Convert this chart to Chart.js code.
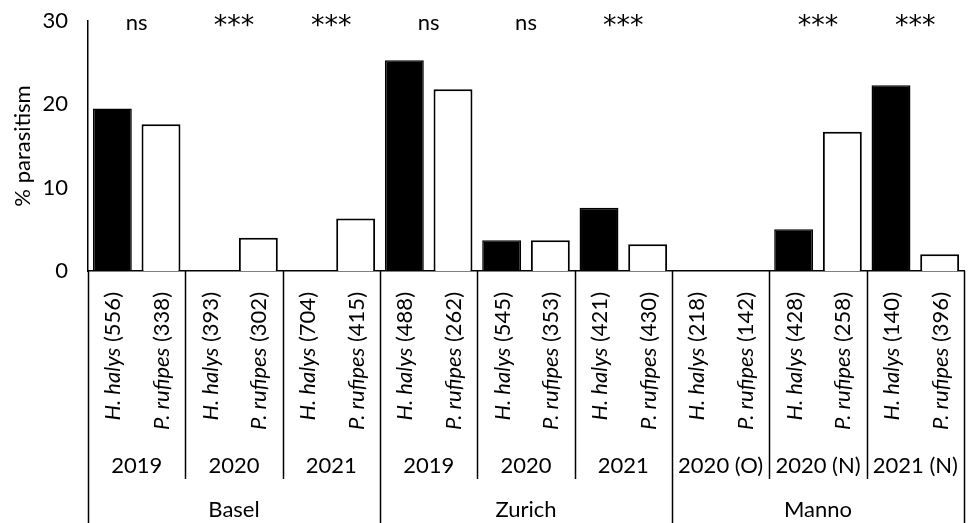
<!DOCTYPE html>
<html>
<head>
<meta charset="utf-8">
<script src="https://cdn.jsdelivr.net/npm/chart.js@4/dist/chart.umd.min.js"></script>
<style>
  html, body { margin: 0; padding: 0; background: #fff; }
  #wrap { width: 968px; height: 523px; }
</style>
</head>
<body>
<div id="wrap"><canvas id="c"></canvas></div>
<script>
// Sampling groups (site × year), one pair of bars per group
const years = ['2019', '2020', '2021', '2019', '2020', '2021', '2020 (O)', '2020 (N)', '2021 (N)'];
const siteNames = ['Basel', 'Zurich', 'Manno'];
const siteGroupCounts = [3, 3, 3];

// % parasitism of sentinel egg masses
const halysPct   = [19.5, 0, 0, 25.3, 3.7, 7.6, 0, 5.0, 22.3];
const rufipesPct = [17.6, 4.0, 6.3, 21.8, 3.7, 3.2, 0, 16.7, 2.0];

// number of eggs exposed
const halysN   = [556, 393, 704, 488, 545, 421, 218, 428, 140];
const rufipesN = [338, 302, 415, 262, 353, 430, 142, 258, 396];

const speciesNames = ['H. halys', 'P. rufipes'];
const signif = ['ns', '***', '***', 'ns', 'ns', '***', '', '***', '***'];

const yTicks = [0, 10, 20, 30];

const FONT = 'Lato';
const FS = 22;

const labelTable = {
  id: 'labelTable',
  afterDraw(chart) {
    const ctx = chart.ctx;
    const x = chart.scales.x;
    const area = chart.chartArea;
    const H = chart.height;
    const n = years.length;
    const step = x.getPixelForValue(1) - x.getPixelForValue(0);
    const edge = i => x.getPixelForValue(0) - step / 2 + i * step;

    ctx.save();
    ctx.strokeStyle = '#000';
    ctx.lineWidth = 1.5;
    ctx.fillStyle = '#000';

    // vertical separators: site borders run to the bottom, year borders stop above the site row
    const siteEdges = [0];
    siteGroupCounts.reduce((acc, c) => { siteEdges.push(acc + c); return acc + c; }, 0);
    for (let i = 0; i <= n; i++) {
      const px = Math.round(edge(i)) + 0.5;
      const full = siteEdges.includes(i);
      ctx.beginPath();
      ctx.moveTo(px, area.bottom);
      ctx.lineTo(px, full ? H : 479);
      ctx.stroke();
    }

    // significance marks above each pair
    ctx.textAlign = 'center';
    ctx.textBaseline = 'alphabetic';
    signif.forEach((s, i) => {
      if (!s) return;
      const cx = x.getPixelForValue(i);
      if (s === 'ns') {
        ctx.font = `${FS}px ${FONT}`;
        ctx.fillText(s, cx, 30);
      } else {
        ctx.font = `27px 'DejaVu Sans'`;
        ctx.fillText(s, cx, 34);
      }
    });

    // rotated species labels with sample sizes
    const metas = [chart.getDatasetMeta(0), chart.getDatasetMeta(1)];
    const counts = [halysN, rufipesN];
    const topY = 292;
    for (let d = 0; d < 2; d++) {
      for (let i = 0; i < n; i++) {
        const bx = metas[d].data[i].x;
        const sp = speciesNames[d];
        const num = ' (' + counts[d][i] + ')';
        ctx.font = `italic ${FS}px ${FONT}`;
        const w1 = ctx.measureText(sp).width;
        ctx.font = `${FS}px ${FONT}`;
        const w2 = ctx.measureText(num).width;
        ctx.save();
        ctx.translate(bx + 1, topY);
        ctx.rotate(-Math.PI / 2);
        ctx.textAlign = 'left';
        ctx.textBaseline = 'middle';
        const x0 = -(w1 + w2);
        ctx.font = `italic ${FS}px ${FONT}`;
        ctx.fillText(sp, x0, 0);
        ctx.font = `${FS}px ${FONT}`;
        ctx.fillText(num, x0 + w1, 0);
        ctx.restore();
      }
    }

    // year row
    ctx.font = `${FS}px ${FONT}`;
    ctx.textAlign = 'center';
    ctx.textBaseline = 'middle';
    years.forEach((y, i) => ctx.fillText(y, x.getPixelForValue(i), 466));

    // site row
    for (let s = 0; s < siteNames.length; s++) {
      const cx = (edge(siteEdges[s]) + edge(siteEdges[s + 1])) / 2;
      ctx.fillText(siteNames[s], cx, 510);
    }
    ctx.restore();
  }
};

Chart.defaults.color = '#000';
Chart.defaults.font.family = FONT;
Chart.defaults.font.size = FS;

new Chart(document.getElementById('c'), {
  type: 'bar',
  data: {
    labels: years,
    datasets: [
      {
        label: speciesNames[0],
        data: halysPct,
        backgroundColor: '#000',
        borderColor: '#000',
        borderWidth: 1.5
      },
      {
        label: speciesNames[1],
        data: rufipesPct,
        backgroundColor: '#fff',
        borderColor: '#000',
        borderWidth: 2
      }
    ]
  },
  options: {
    responsive: true,
    maintainAspectRatio: false,
    animation: false,
    layout: { padding: { top: 21, right: 4, left: 0, bottom: 0 } },
    datasets: { bar: { categoryPercentage: 1.0, barPercentage: 0.8 } },
    plugins: {
      legend: { display: false },
      tooltip: { enabled: false }
    },
    scales: {
      x: {
        grid: { display: false, drawTicks: false },
        border: { display: true, color: '#000', width: 1.5 },
        ticks: { display: false },
        afterFit(scale) { scale.height = 252; }
      },
      y: {
        min: 0,
        max: 30,
        afterBuildTicks(scale) { scale.ticks = yTicks.map(v => ({ value: v })); },
        grid: { display: false, drawTicks: false },
        border: { display: true, color: '#000', width: 1.5 },
        ticks: { padding: 20, color: '#000', font: { size: FS, family: FONT } },
        title: {
          display: true,
          text: '% parasitism',
          color: '#000',
          font: { size: FS, family: FONT },
          padding: { top: 10, bottom: 0 }
        },
        afterFit(scale) {
          scale.width = 88;
          scale.paddingTop = 0;
          scale.paddingBottom = 0;
        }
      }
    }
  },
  plugins: [labelTable]
});
</script>
</body>
</html>
